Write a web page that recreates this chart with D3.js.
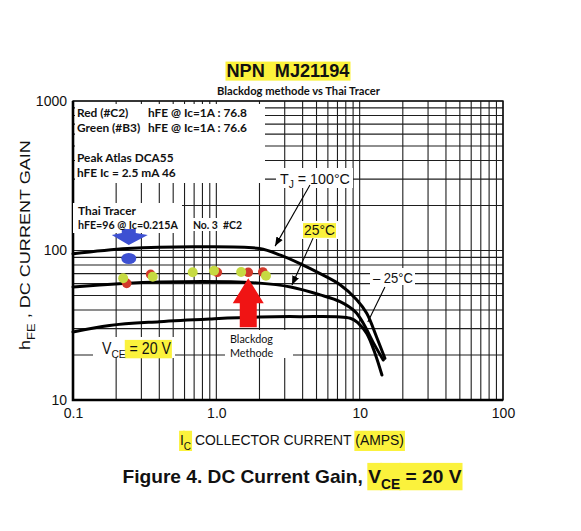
<!DOCTYPE html>
<html>
<head>
<meta charset="utf-8">
<script src="https://cdn.jsdelivr.net/npm/d3@7"></script>
<style>
  body { margin: 0; background: #fff; }
  svg { display: block; }
  text { white-space: pre; }
</style>
</head>
<body>
<svg id="chart"></svg>
<script>
// hFE vs Ic curves, figure 4 (VCE = 20 V)
const ic100 = [0.1, 0.24, 0.69, 2.0, 2.8, 3.8, 5.3, 7.3, 9.5, 11.2, 13.1, 15.0];
const hfe100 = [95, 103, 106, 103, 93, 82, 70, 59, 47, 38, 26.5, 19];

const ic25 = [0.1, 0.4, 2.0, 3.3, 5.3, 7.3, 9.3, 10.6, 12.5, 14.6];
const hfe25 = [57, 61.5, 60.5, 57, 50.5, 45.5, 39, 32.6, 24, 18.5];

const icM25 = [0.1, 0.18, 0.4, 0.9, 2.0, 3.8, 8.6, 9.8, 11.2, 12.8, 14.3];
const hfeM25 = [28.5, 31.5, 33.4, 34.8, 35.9, 36.1, 35.2, 32.6, 27.9, 20.5, 14.7];

// measured points (Blackdog methode)
const greenIc = [0.224, 0.36, 0.684, 0.964, 1.49, 2.22];
const greenHfe = [65.2, 66.8, 71.5, 73.3, 71.8, 67.8];
const redIc = [0.237, 0.348, 1.016, 1.67, 2.11];
const redHfe = [60.3, 69.2, 71.5, 71.5, 71.8];

// Thai Tracer reading and arrow anchors
const thaiIc = 0.245, thaiHfe = 88.4, thaiArrowHfe = 109;
const blackdogIc = 1.67, blackdogHfe = 65.2;

const xTicks = [0.1, 1, 10, 100];
const xTickLabels = ['0.1', '1.0', '10', '100'];
const yTicks = [10, 100, 1000];
const yTickLabels = ['10', '100', '1000'];

const width = 581, height = 531;
const margin = { top: 101, right: 78, bottom: 131, left: 73 };
const YELLOW = '#fbf23c';
const DS_FONT = "'Liberation Sans',Arial,sans-serif";
const NOTE_FONT = "Lato,'Open Sans',sans-serif";

const svg = d3.select('#chart').attr('width', width).attr('height', height);

const x = d3.scaleLog().domain([0.1, 100]).range([margin.left, width - margin.right]);
const y = d3.scaleLog().domain([10, 1000]).range([height - margin.bottom, margin.top]);
const [x0, x1] = x.range();
const [y0, y1] = y.range();

// text made of pieces, some subscript, some highlighted in yellow.
// fit = target width; the run is squeezed sideways only (the datasheet font is a narrow one)
function runs(parent, pieces, opt) {
    const size = opt.size;
    const hl = opt.hl || [0.9, 0.3];
    const g = parent.append('g');
    const bg = g.append('g');
    const fg = g.append('g');
    let cx = 0;
    pieces.forEach(p => {
        const t = fg.append('text')
            .attr('x', cx)
            .attr('y', p.sub ? size * 0.3 : 0)
            .attr('font-size', p.sub ? size * 0.72 : size)
            .attr('font-family', opt.family || DS_FONT)
            .attr('font-weight', opt.weight || 'normal')
            .attr('fill', '#111')
            .text(p.t);
        const w = t.node().getComputedTextLength();
        if (p.hl) {
            bg.append('rect')
                .attr('x', cx - 1).attr('y', -size * hl[0])
                .attr('width', w + 2).attr('height', size * (hl[0] + hl[1]))
                .attr('fill', YELLOW);
        }
        cx += w;
    });
    const kx = opt.fit ? opt.fit / cx : 1;
    const ky = opt.uniform ? kx : 1;
    let left = opt.x;
    if (opt.anchor === 'middle') left = opt.x - cx * kx / 2;
    if (opt.anchor === 'end') left = opt.x - cx * kx;
    g.attr('transform', `translate(${left},${opt.y}) scale(${kx},${ky})`);
    return g;
}

// font size that makes a string fill a given width
function fitSize(str, target, weight) {
    const t = svg.append('text')
        .attr('font-family', NOTE_FONT).attr('font-size', 20).attr('font-weight', weight)
        .text(str);
    const w = t.node().getComputedTextLength();
    t.remove();
    return 20 * target / w;
}

function note(str, px, py, size, weight) {
    svg.append('text')
        .attr('x', px).attr('y', py)
        .attr('font-family', NOTE_FONT)
        .attr('font-size', size)
        .attr('font-weight', weight || 'bold')
        .attr('fill', '#111')
        .text(str);
}

function whiteBox(px, py, w, h) {
    svg.append('rect').attr('x', px).attr('y', py).attr('width', w).attr('height', h).attr('fill', '#fff');
}

// grid
let grid = svg.append('g').attr('stroke', '#1e1e1e').attr('stroke-width', 1.1);
grid.selectAll('.vx').data(x.ticks()).join('line')
    .attr('x1', d => x(d)).attr('x2', d => x(d))
    .attr('y1', y1).attr('y2', y0);
grid.selectAll('.hy').data(y.ticks()).join('line')
    .attr('y1', d => y(d)).attr('y2', d => y(d))
    .attr('x1', x0).attr('x2', x1);

// frame
svg.append('rect')
    .attr('x', x0).attr('y', y1).attr('width', x1 - x0).attr('height', y0 - y1)
    .attr('fill', 'none').attr('stroke', '#111').attr('stroke-width', 1.4);
svg.append('path')
    .attr('d', `M${x0},${y1}V${y0}H${x1}`)
    .attr('fill', 'none').attr('stroke', '#000').attr('stroke-width', 2.6);

// tick labels
let axisX = d3.axisBottom(x).tickValues(xTicks).tickFormat((d, i) => xTickLabels[i]).tickSize(0).tickPadding(8);
svg.append('g').attr('transform', `translate(0,${y0})`).call(axisX)
    .call(g => g.select('.domain').remove())
    .selectAll('text').attr('font-family', DS_FONT).attr('font-size', 14).attr('fill', '#111');

let axisY = d3.axisLeft(y).tickValues(yTicks).tickFormat((d, i) => yTickLabels[i]).tickSize(0).tickPadding(6);
svg.append('g').attr('transform', `translate(${x0},0)`).call(axisY)
    .call(g => g.select('.domain').remove())
    .selectAll('text').attr('font-family', DS_FONT).attr('font-size', 14).attr('fill', '#111');

// annotation backgrounds
whiteBox(75, 104, 190, 79);
whiteBox(73, 203, 109, 30);
whiteBox(191, 218, 54, 13);
whiteBox(276, 168, 77, 20);
whiteBox(300, 221, 38, 18);
whiteBox(370, 268, 45, 17);
whiteBox(93, 337, 82, 21);
whiteBox(225, 330, 68, 28);

// curves
let line = d3.line().x(d => x(d[0])).y(d => y(d[1])).curve(d3.curveCatmullRom.alpha(0.5));
[[ic100, hfe100], [ic25, hfe25], [icM25, hfeM25]].forEach(([ic, hfe]) => {
    svg.append('path')
        .datum(d3.zip(ic, hfe))
        .attr('d', line)
        .attr('fill', 'none')
        .attr('stroke', '#000')
        .attr('stroke-width', 3)
        .attr('stroke-linecap', 'round');
});

// measured dots
svg.append('g').selectAll('circle').data(d3.zip(redIc, redHfe)).join('circle')
    .attr('cx', d => x(d[0])).attr('cy', d => y(d[1])).attr('r', 4.8)
    .attr('fill', '#d2392a');
svg.append('g').selectAll('circle').data(d3.zip(greenIc, greenHfe)).join('circle')
    .attr('cx', d => x(d[0])).attr('cy', d => y(d[1])).attr('r', 5)
    .attr('fill', '#c6da42');

// blue marker (Thai Tracer)
let bx = x(thaiIc), bTip = y(thaiArrowHfe);
svg.append('path')
    .attr('d', `M${bx - 7},${bTip - 16}H${bx + 7}V${bTip - 12}L${bx + 19},${bTip - 10}L${bx},${bTip}L${bx - 17},${bTip - 10}L${bx - 7},${bTip - 12}Z`)
    .attr('fill', '#3d50d2');
svg.append('ellipse')
    .attr('cx', bx).attr('cy', y(thaiHfe)).attr('rx', 7.5).attr('ry', 5.5)
    .attr('fill', '#3d50d2');

// red arrow (Blackdog methode)
let rx = x(blackdogIc), rTip = y(blackdogHfe);
svg.append('path')
    .attr('d', `M${rx},${rTip}L${rx + 15.5},${rTip + 25}H${rx + 8.5}V${rTip + 49}H${rx - 8.5}V${rTip + 25}H${rx - 15.5}Z`)
    .attr('fill', '#f01414');

// pointer lines
svg.append('defs').append('marker')
    .attr('id', 'head').attr('viewBox', '0 0 10 10')
    .attr('refX', 10).attr('refY', 5)
    .attr('markerWidth', 9).attr('markerHeight', 9).attr('markerUnits', 'userSpaceOnUse')
    .attr('orient', 'auto')
    .append('path').attr('d', 'M0,1L10,5L0,9Z').attr('fill', '#000');

const pointers = [
    { from: [4.5, 274], to: [2.57, 107], head: true },
    { from: [4.73, 121], to: [3.37, 58.8], head: true },
    { from: [15.0, 57], to: [11.4, 33.3], head: false }
];
pointers.forEach(p => {
    svg.append('line')
        .attr('x1', x(p.from[0])).attr('y1', y(p.from[1]))
        .attr('x2', x(p.to[0])).attr('y2', y(p.to[1]))
        .attr('stroke', '#000').attr('stroke-width', 1.1)
        .attr('marker-end', p.head ? 'url(#head)' : null);
});

// curve labels
runs(svg, [{ t: 'T' }, { t: 'J', sub: true }, { t: ' = 100°C' }], { x: 280, y: 183.5, size: 15, fit: 70 });
runs(svg, [{ t: '25°C', hl: true }], { x: 304, y: 235, size: 14, hl: [0.85, 0.2], fit: 31 });
runs(svg, [{ t: '– 25°C' }], { x: 373, y: 283, size: 14, fit: 40 });
runs(svg, [{ t: 'V' }, { t: 'CE', sub: true }, { t: ' = 20 V', hl: true }], { x: 102, y: 353.5, size: 16, hl: [0.85, 0.3], fit: 69 });

// notes
const boxSize = fitSize('hFE @ Ic=1A : 76.8', 99, 'bold');
note('Red (#C2)', 77, 117, boxSize);
note('hFE @ Ic=1A : 76.8', 148, 117, boxSize);
note('Green (#B3)', 77, 132, boxSize);
note('hFE @ Ic=1A : 76.6', 148, 132, boxSize);
note('Peak Atlas DCA55', 77, 162, boxSize);
note('hFE Ic = 2.5 mA 46', 77, 177, boxSize);
note('Thai Tracer', 78, 215, boxSize);
note('hFE=96 @ Ic=0.215A', 78, 229, fitSize('hFE=96 @ Ic=0.215A', 100, 'bold'));
note('No. 3  #C2', 193, 228.5, fitSize('No. 3  #C2', 49, 'bold'));
const bdSize = fitSize('Blackdog', 43, 'normal');
note('Blackdog', 230, 342.5, bdSize, 'normal');
note('Methode', 230, 356.5, bdSize, 'normal');

// titles
runs(svg, [{ t: 'NPN  MJ21194', hl: true }], { x: 288, y: 77, size: 18, weight: 'bold', anchor: 'middle', hl: [0.85, 0.2], fit: 123, uniform: true });
note('Blackdog methode vs Thai Tracer', 217, 95, fitSize('Blackdog methode vs Thai Tracer', 163, 'bold'));

runs(svg, [{ t: 'I', hl: true }, { t: 'C', sub: true, hl: true }, { t: ' COLLECTOR CURRENT ' }, { t: '(AMPS)', hl: true }],
    { x: 292, y: 445, size: 15, anchor: 'middle', hl: [0.95, 0.4], fit: 224 });

let yTitle = svg.append('g').attr('transform', `translate(30,245) rotate(-90)`);
runs(yTitle, [{ t: 'h' }, { t: 'FE', sub: true }, { t: ' , DC CURRENT GAIN' }],
    { x: 0, y: 0, size: 15, anchor: 'middle', fit: 210 });

runs(svg, [{ t: 'Figure 4. DC Current Gain, ' }, { t: 'V', hl: true }, { t: 'CE', sub: true, hl: true }, { t: ' = 20 V', hl: true }],
    { x: 292, y: 483, size: 19, weight: 'bold', anchor: 'middle', hl: [1.05, 0.38], fit: 339, uniform: true });
</script>
</body>
</html>
